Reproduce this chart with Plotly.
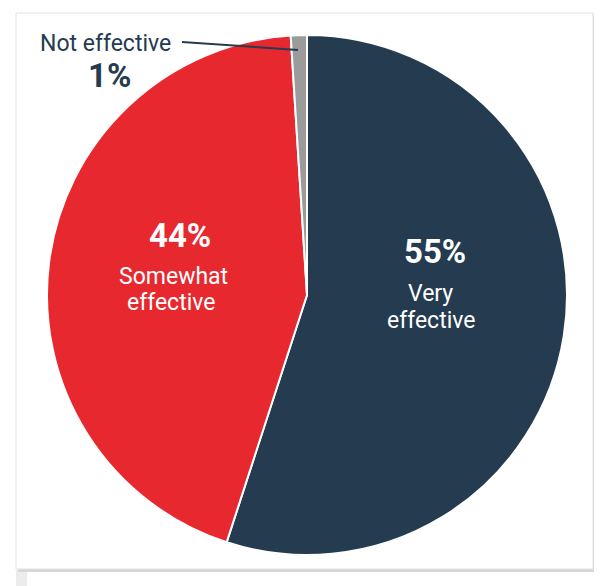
import plotly.graph_objects as go

labels = ["Very effective", "Somewhat effective", "Not effective"]
values = [55, 44, 1]
colors = ["#243b50", "#e8282f", "#9b9b9b"]
pct_text = ["55%", "44%", "1%"]
name_lines = [["Very", "effective"], ["Somewhat", "effective"], ["Not effective"]]

# page has an 8px body margin; figure fills the rest of the 602x586 window
OFF = 8
W, H = 602 - OFF, 586 - OFF
def px(x): return (x - OFF) / W
def py(y): return 1 - (y - OFF) / H

fig = go.Figure(go.Pie(
    labels=labels, values=values, sort=False, direction="clockwise", rotation=0,
    marker=dict(colors=colors, line=dict(color="white", width=2)),
    textinfo="none", hoverinfo="label+percent", showlegend=False,
    domain=dict(x=[px(47), px(567)], y=[py(555), py(35)]),
))

font = "Roboto, Arial, sans-serif"
NAVY = "#243b50"
ann = []
# 55% slice
ann.append(dict(x=px(435), y=py(251), text="<b>%s</b>" % pct_text[0], font=dict(size=33, color="white", family=font)))
ann.append(dict(x=px(430), y=py(293), text=name_lines[0][0], font=dict(size=23, color="white", family=font)))
ann.append(dict(x=px(431), y=py(320), text=name_lines[0][1], font=dict(size=23, color="white", family=font)))
# 44% slice
ann.append(dict(x=px(180), y=py(235), text="<b>%s</b>" % pct_text[1], font=dict(size=33, color="white", family=font)))
ann.append(dict(x=px(173), y=py(276), text=name_lines[1][0], font=dict(size=23, color="white", family=font)))
ann.append(dict(x=px(171), y=py(302), text=name_lines[1][1], font=dict(size=23, color="white", family=font)))
# 1% slice (outside)
ann.append(dict(x=px(105), y=py(43), text=name_lines[2][0], font=dict(size=23, color=NAVY, family=font)))
ann.append(dict(x=px(109), y=py(75), text="<b>%s</b>" % pct_text[2], font=dict(size=33, color=NAVY, family=font)))
for a in ann:
    a.update(xref="paper", yref="paper", showarrow=False, xanchor="center", yanchor="middle")

shapes = [
    # card shadow pieces
    dict(type="rect", xref="paper", yref="paper", x0=px(593), x1=px(602), y0=py(32), y1=py(13),
         fillcolor="#ececec", line=dict(width=0), layer="below"),
    dict(type="rect", xref="paper", yref="paper", x0=px(16), x1=px(27), y0=py(586), y1=py(570),
         fillcolor="#ececec", line=dict(width=0), layer="below"),
    dict(type="rect", xref="paper", yref="paper", x0=px(18), x1=px(596), y0=py(572), y1=py(15),
         fillcolor="#d6d6d6", line=dict(width=0), layer="below"),
    # card
    dict(type="rect", xref="paper", yref="paper", x0=px(16), x1=px(593), y0=py(569), y1=py(13),
         fillcolor="white", line=dict(color="#e2e2e2", width=1), layer="below"),
    # leader line
    dict(type="line", xref="paper", yref="paper", x0=px(182), y0=py(42), x1=px(298), y1=py(50),
         line=dict(color=NAVY, width=2)),
]

fig.update_layout(
    width=W, height=H, margin=dict(l=0, r=0, t=0, b=0),
    paper_bgcolor="white", plot_bgcolor="white",
    annotations=ann, shapes=shapes,
)
fig.write_html("out.html")
